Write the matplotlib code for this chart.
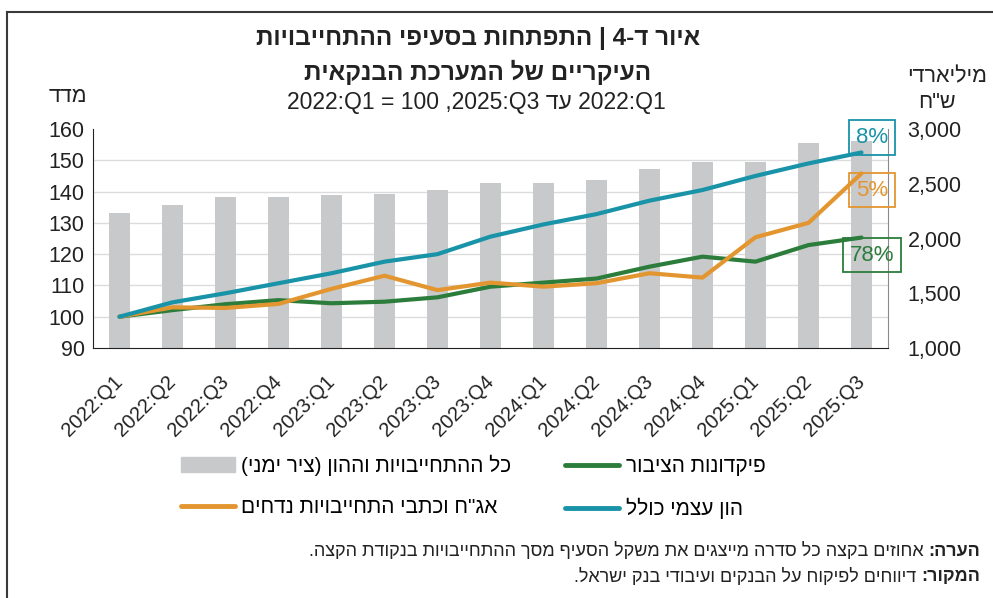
import numpy as np
import matplotlib
matplotlib.use('Agg')
import matplotlib.pyplot as plt
from matplotlib.lines import Line2D
from matplotlib.patches import Patch

plt.rcParams['font.family'] = ['Liberation Sans', 'DejaVu Sans']


def vis(s):
    # matplotlib has no bidi: flip Hebrew text into visual order
    swap = {'(': ')', ')': '('}
    return ''.join(swap.get(c, c) for c in s[::-1])


quarters = ['2022:Q1', '2022:Q2', '2022:Q3', '2022:Q4',
            '2023:Q1', '2023:Q2', '2023:Q3', '2023:Q4',
            '2024:Q1', '2024:Q2', '2024:Q3', '2024:Q4',
            '2025:Q1', '2025:Q2', '2025:Q3']

# total liabilities and equity, NIS billion (right axis)
total_liab = [2236, 2306, 2382, 2382, 2394, 2406, 2446, 2507,
              2507, 2537, 2632, 2701, 2696, 2869, 2888]
# indices, 2022:Q1 = 100 (left axis)
deposits = [100, 102.1, 104.0, 105.3, 104.3, 104.8, 106.2, 109.6,
            110.9, 112.2, 116.0, 119.2, 117.6, 122.9, 125.3]
equity = [100, 104.6, 107.5, 110.7, 113.9, 117.6, 120.0, 125.6,
          129.5, 132.8, 137.1, 140.5, 145.0, 149.0, 152.5]
bonds = [100, 103.0, 102.8, 104.1, 108.9, 113.1, 108.5, 110.9,
         109.6, 110.7, 113.9, 112.5, 125.4, 130.0, 145.8]

end_labels = ['78%', '8%', '5%']

c_green = '#2c7d3b'
c_teal = '#1993a8'
c_orange = '#e3962f'
c_gray = '#c8c9cb'
c_text = '#222222'

fig = plt.figure(figsize=(9.93, 5.98), dpi=100)
ax2 = fig.add_axes([93/993, 1-348/598, 795/993, 219/598])
ax = ax2.twinx()
ax.yaxis.tick_left()
ax2.yaxis.tick_right()
ax.set_zorder(ax2.get_zorder() + 1)
ax.patch.set_visible(False)

x = np.arange(len(quarters))

# bars on right scale
ax2.bar(x, total_liab, width=0.4, color=c_gray, zorder=2)
ax2.set_ylim(1000, 3000)
ax2.set_yticks([1000, 1500, 2000, 2500, 3000])
ax2.set_yticklabels(['{:,}'.format(v) for v in [1000, 1500, 2000, 2500, 3000]])
ax2.set_yticks(np.linspace(1000, 3000, 8), minor=True)
ax2.set_axisbelow(True)
ax2.grid(which='minor', axis='y', color='#dcdcdc', lw=1)
ax2.tick_params(axis='y', which='both', length=0, labelsize=15.5, pad=14,
                labelcolor=c_text)

# lines on left scale
ax.plot(x, deposits, color=c_green, lw=3, solid_capstyle='round')
ax.plot(x, bonds, color=c_orange, lw=3, solid_capstyle='round')
ax.plot(x, equity, color=c_teal, lw=3, solid_capstyle='round')
ax.set_ylim(90, 160)
ax.set_yticks(np.arange(90, 161, 10))
ax.tick_params(axis='y', length=0, labelsize=15.5, pad=6, labelcolor=c_text)

ax2.set_xlim(-0.5, len(quarters) - 0.5)
ax2.set_xticks(x)
ax2.set_xticklabels(quarters, rotation=45, ha='right', va='center',
                    rotation_mode='anchor', fontsize=14.5, color=c_text)
ax2.tick_params(axis='x', length=0, pad=22)

for a in (ax, ax2):
    a.spines['top'].set_visible(False)
ax.spines['right'].set_visible(False)
ax.spines['bottom'].set_visible(False)
ax2.spines['left'].set_visible(False)
ax.spines['left'].set_color(c_text)
ax2.spines['bottom'].set_color(c_text)
ax2.spines['right'].set_color('#8a8a8a')

# end-of-series share labels
last = len(quarters) - 1
for lab, yv, col in [(end_labels[0], 119.7, c_green),
                     (end_labels[1], 157.3, c_teal),
                     (end_labels[2], 140.5, c_orange)]:
    ax.text(last + 0.2, yv, lab, color=col, fontsize=16, ha='center', va='center',
            bbox=dict(boxstyle='square,pad=0.3', fc='none', ec=col, lw=1.3))

# titles
fig.text(478/993, 1-38/598, vis('איור ד-4 | התפתחות בסעיפי ההתחייבויות'),
         ha='center', va='center', fontsize=17.5, fontweight='bold', color=c_text)
fig.text(478/993, 1-72/598, vis('העיקריים של המערכת הבנקאית'),
         ha='center', va='center', fontsize=17.5, fontweight='bold', color=c_text)
fig.text(476/993, 1-103/598, '2022:Q1 = 100 ,2025:Q3 ' + vis('עד') + ' 2022:Q1',
         ha='center', va='center', fontsize=16.5, color=c_text)
fig.text(68/993, 1-97/598, vis('מדד'), ha='center', va='center', fontsize=15.5,
         color=c_text)
fig.text(947/993, 1-77/598, vis('מיליארדי'), ha='center', va='center', fontsize=15.5,
         color=c_text)
fig.text(937/993, 1-103/598, vis('ש"ח'), ha='center', va='center', fontsize=15.5,
         color=c_text)

# legend
handles = [Patch(color=c_gray), Line2D([], [], color=c_orange, lw=3.5, solid_capstyle='round'),
           Line2D([], [], color=c_green, lw=3.5, solid_capstyle='round'),
           Line2D([], [], color=c_teal, lw=3.5, solid_capstyle='round')]
labels = [vis('כל ההתחייבויות וההון (ציר ימני)'), vis('אג"ח וכתבי התחייבויות נדחים'),
          vis('פיקדונות הציבור'), vis('הון עצמי כולל')]
fig.legend(handles, labels, ncol=2, loc='center', bbox_to_anchor=(473/993, 1-487/598),
           frameon=False, fontsize=15, handlelength=2.6, handletextpad=0.3,
           columnspacing=2.6, labelspacing=1.05)

# note and source
renderer = fig.canvas.get_renderer()
for yy, bold, rest in [(551, 'הערה:', ' אחוזים בקצה כל סדרה מייצגים את משקל הסעיף מסך ההתחייבויות בנקודת הקצה.'),
                       (577, 'המקור:', ' דיווחים לפיקוח על הבנקים ועיבודי בנק ישראל.')]:
    t = fig.text(980/993, 1-yy/598, vis(bold), ha='right', va='center', fontsize=13,
                 fontweight='bold', color=c_text)
    bb = t.get_window_extent(renderer)
    fig.text(bb.x0/fig.bbox.width, 1-yy/598, vis(rest), ha='right', va='center',
             fontsize=13, color=c_text)

# outer frame (top and left edges)
fig.add_artist(Line2D([7/993, 1], [1-12/598, 1-12/598], transform=fig.transFigure,
                      color='#3a3a3a', lw=1.5))
fig.add_artist(Line2D([7/993, 7/993], [0, 1-12/598], transform=fig.transFigure,
                      color='#3a3a3a', lw=1.5))

fig.savefig('out.png', dpi=100)
